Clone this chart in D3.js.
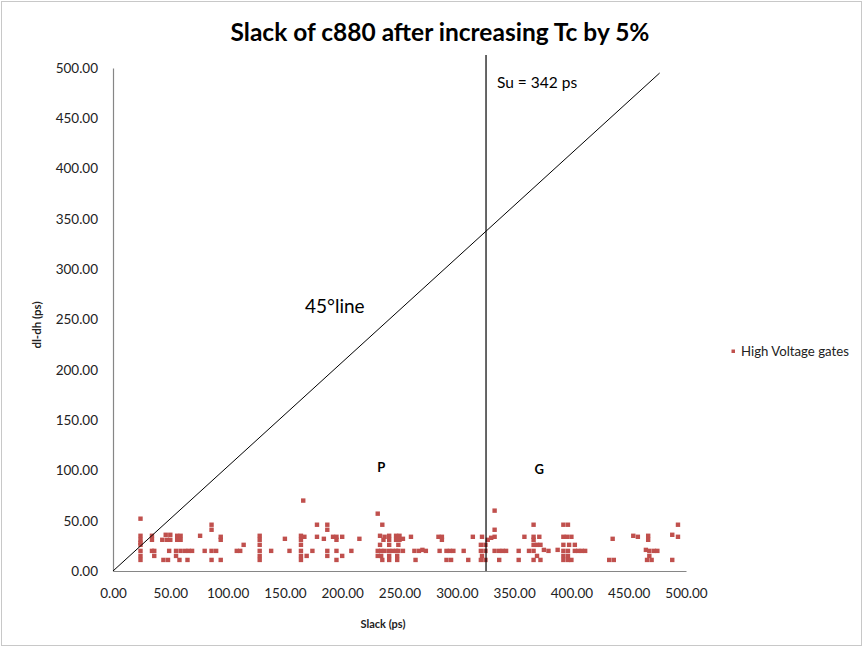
<!DOCTYPE html>
<html>
<head>
<meta charset="utf-8">
<script src="https://cdn.jsdelivr.net/npm/d3@7"></script>
<style>
  html, body { margin: 0; padding: 0; background: #fff; }
  svg { display: block; font-family: Lato, "Open Sans", sans-serif; }
</style>
</head>
<body>
<svg id="chart" width="864" height="648"></svg>
<script>
// ---- data ----
const chartTitle = "Slack of c880 after increasing Tc by 5%";
const xTicks = [0, 50, 100, 150, 200, 250, 300, 350, 400, 450, 500];
const yTicks = [0, 50, 100, 150, 200, 250, 300, 350, 400, 450, 500];
const seriesName = "High Voltage gates";

// Slack (ps) of each gate
const slackPs = [
  24,24,24,24,24,24,24,24, 34,34,34,36,36, 46,50,43,47,50, 49,44,48,
  56,59,56,59, 55,59,55,58, 63,66,69,65, 76,80, 86,86,86,90,86, 94,94,94,
  108,111,114, 128,128,128,128,128,128, 138,150,154, 166,
  164,164,164,164,164,164,167, 169,174, 178,178, 184, 187,187,187,187,
  192,195,195,195,195, 200,200, 208,215, 231,235, 233,237,236,233,
  231,234,237, 231,234, 235, 241,241,241,241,241,241, 244,
  247,250,247,250,249,247,249,248,248, 253,253,260, 263,264,267,270,273,
  284,287,287,285,291,294,297,291,295, 306,310,314,322,
  321,325,321,325,322,321,325, 327,330,333,333,333, 333,337,340,343,337,
  354,354,359, 363,367,367,367,367,367,370,373,370,367,373,372,
  376,380,388, 393,397,393,396,400,393,398,393,397,393,397,393,397,400,
  403,403,406,409,412, 436,433,437,
  454,458,467,467,465,468,472,475,468,466,470, 488,493,493,488
];
// dl-dh (ps) of each gate
const dlDhPs = [
  52,35,31,28,26,20,15,11, 35,31,20,20,15, 36,36,31,31,31, 20,11,11,
  35,35,31,31, 20,20,15,11, 20,20,20,11, 35,20, 46,41,20,20,11, 34,31,11,
  20,20,26, 35,31,26,20,15,11, 20,32,20, 70,
  35,31,26,20,15,11,34, 15,20, 46,34, 32, 46,41,20,15,
  34,34,31,20,11, 34,15, 20,32, 57,46, 35,34,31,26,
  20,20,20, 15,15, 11, 35,31,26,20,15,11, 20,
  35,35,31,31,26,20,20,15,11, 32,20,34, 20,11,20,21,20,
  34,34,31,20,20,20,20,11,11, 20,11,34,34,
  26,26,20,20,15,11,11, 31,33,34,60,41, 20,20,20,20,11,
  20,11,34, 20,20,46,34,31,26,26,26,15,11,11,34,
  21,20,21, 46,46,34,34,34,26,26,20,20,15,15,11,11,11,
  26,20,20,20,20, 32,11,11,
  35,34,35,31,21,20,20,20,15,11,11, 36,46,34,11
];

// Reference lines (data units)
const diagX = [0, 477];
const diagY = [0, 495];
const suSlack = 325.5;
const suTop = 513;

// Annotations (data anchors)
const suLabel = "Su = 342 ps";
const lineLabel = "45°line";
const regionLabels = ["P", "G"];
const regionX = [234, 372];
const regionY = [103, 101];

// ---- drawing ----
const svg = d3.select("#chart");
const W = 864, H = 648;
const plot = { left: 113, right: 686, top: 68, bottom: 571 };
const red = "#C0504D";

svg.append("rect").attr("x", 1.5).attr("y", 1.5).attr("width", W - 4).attr("height", H - 4)
  .attr("fill", "#fff").attr("stroke", "#c8c8c8").attr("stroke-width", 1);

const x = d3.scaleLinear().domain([0, 500]).range([plot.left, plot.right]);
const y = d3.scaleLinear().domain([0, 500]).range([plot.bottom, plot.top]);

// title
svg.append("text").attr("x", 440).attr("y", 41).attr("text-anchor", "middle")
  .attr("font-size", 24.5).attr("font-weight", "bold").attr("fill", "#000")
  .text(chartTitle);

// axes
const xAxis = d3.axisBottom(x).tickValues(xTicks).tickSize(0).tickPadding(17)
  .tickFormat(d3.format(".2f"));
const yAxis = d3.axisLeft(y).tickValues(yTicks).tickSize(0).tickPadding(15)
  .tickFormat(d3.format(".2f"));

const gx = svg.append("g").attr("transform", `translate(0,${plot.bottom})`).call(xAxis);
const gy = svg.append("g").attr("transform", `translate(${plot.left},0)`).call(yAxis);
[gx, gy].forEach(g => {
  g.select(".domain").attr("stroke", "#868686").attr("stroke-width", 1.2);
  g.selectAll("text").attr("font-size", 13.5).attr("fill", "#222")
    .attr("font-family", "Lato, sans-serif");
});

// axis titles
svg.append("text").attr("x", 383).attr("y", 628).attr("text-anchor", "middle")
  .attr("font-size", 11).attr("font-weight", "bold").attr("fill", "#222").text("Slack (ps)");
svg.append("text").attr("transform", "translate(41,325) rotate(-90)").attr("text-anchor", "middle")
  .attr("font-size", 11.5).attr("font-weight", "bold").attr("fill", "#222").text("dl-dh (ps)");

// points
const pts = slackPs.map((s, i) => ({ s, d: dlDhPs[i] }));
const ms = 4.4;
svg.append("g").selectAll("rect").data(pts).join("rect")
  .attr("x", d => x(d.s) - ms / 2).attr("y", d => y(d.d) - ms / 2)
  .attr("width", ms).attr("height", ms).attr("fill", red);

// 45 degree line
svg.append("line")
  .attr("x1", x(diagX[0])).attr("y1", y(diagY[0]))
  .attr("x2", x(diagX[1])).attr("y2", y(diagY[1]))
  .attr("stroke", "#000").attr("stroke-width", 1);

// Su vertical line
svg.append("line")
  .attr("x1", x(suSlack)).attr("y1", y(0))
  .attr("x2", x(suSlack)).attr("y2", y(suTop))
  .attr("stroke", "#000").attr("stroke-width", 1.2);

// annotations
svg.append("text").attr("x", 497).attr("y", 88).attr("font-size", 15.5).attr("fill", "#000").text(suLabel);
svg.append("text").attr("x", 305).attr("y", 313).attr("font-size", 19).attr("fill", "#000").text(lineLabel);
svg.selectAll(".region").data(regionLabels).join("text")
  .attr("x", (d, i) => x(regionX[i])).attr("y", (d, i) => y(regionY[i]) + 5)
  .attr("text-anchor", "middle").attr("font-size", 13).attr("font-weight", "bold").attr("fill", "#000")
  .text(d => d);

// legend
svg.append("rect").attr("x", 731.5).attr("y", 349.5).attr("width", 3.5).attr("height", 3.5).attr("fill", red);
svg.append("text").attr("x", 741).attr("y", 356).attr("font-size", 13.2).attr("fill", "#222").text(seriesName);
</script>
</body>
</html>
